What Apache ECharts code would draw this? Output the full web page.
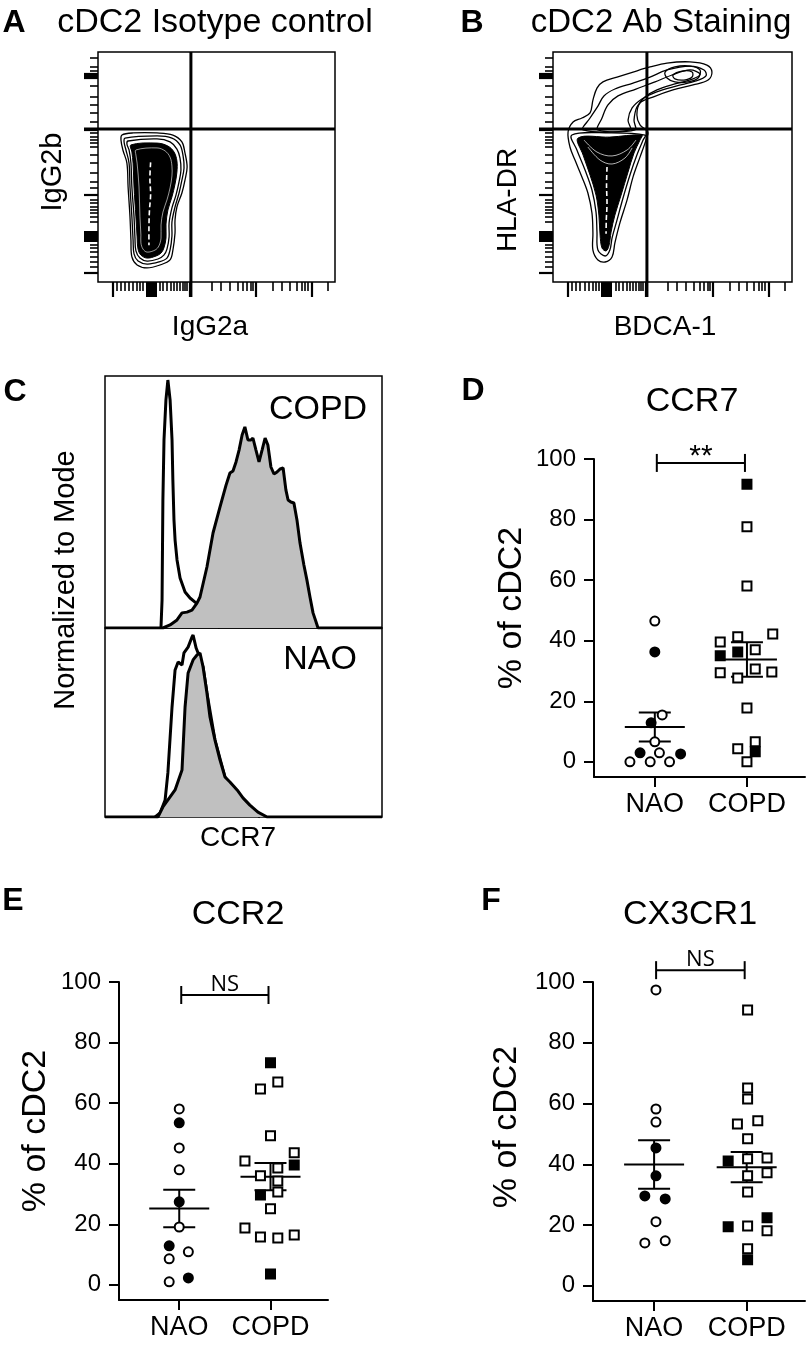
<!DOCTYPE html>
<html><head><meta charset="utf-8">
<script src="https://cdn.jsdelivr.net/npm/echarts@6/dist/echarts.min.js"></script>
<style>html,body{margin:0;padding:0;background:#fff}#c{width:809px;height:1350px}</style>
</head><body><div id="c"></div>
<script>
// ---------------- DATA ----------------
const groups = ['NAO', 'COPD'];
const yTicks = [0, 20, 40, 60, 80, 100];

// D: CCR7 (% of cDC2)
const ccr7_NAO = [46.5, 36.3, 15.5, 12.9, 6.6, 3.0, 3.0, 2.6, 0, 0, 0];
const ccr7_NAO_filled = [0, 1, 0, 1, 0, 1, 0, 1, 0, 0, 0];
const ccr7_NAO_jitter = [0, 0, 0.08, -0.04, 0, -0.16, 0.05, 0.28, -0.27, -0.05, 0.16];
const ccr7_COPD = [91.7, 77.6, 58.1, 42.2, 41.3, 39.6, 36.3, 37.0, 35.0, 30.7, 29.4, 29.7, 27.7, 17.8, 4.3, 6.6, 3.3, 0];
const ccr7_COPD_filled = [1, 0, 0, 0, 0, 0, 1, 0, 1, 0, 0, 0, 0, 0, 0, 0, 1, 0];
const ccr7_COPD_jitter = [0, 0, 0, 0.28, -0.10, -0.29, -0.10, 0.09, -0.29, 0.09, -0.29, 0.27, -0.10, 0, -0.10, 0.09, 0.09, 0];

// E: CCR2
const ccr2_NAO = [58.1, 53.5, 45.2, 38.0, 27.4, 19.1, 12.9, 10.9, 8.6, 2.3, 1.0];
const ccr2_NAO_filled = [0, 1, 0, 0, 1, 0, 1, 0, 0, 1, 0];
const ccr2_NAO_jitter = [0, 0, 0, 0, 0, 0, -0.11, 0.10, -0.11, 0.10, -0.11];
const ccr2_COPD = [73.3, 64.7, 67.0, 49.2, 43.6, 39.6, 40.9, 38.6, 36.0, 34.3, 29.7, 30.7, 25.1, 18.8, 15.8, 15.5, 16.5, 3.6];
const ccr2_COPD_filled = [1, 0, 0, 0, 0, 1, 0, 0, 0, 0, 1, 0, 0, 0, 0, 0, 0, 1];
const ccr2_COPD_jitter = [0, -0.11, 0.08, 0, 0.26, 0.26, -0.28, 0.08, -0.11, 0.08, -0.11, 0.08, 0, -0.28, -0.11, 0.08, 0.26, 0];

// F: CX3CR1
const cx3cr1_NAO = [97.4, 58.2, 53.9, 45.4, 36.2, 29.6, 28.6, 21.1, 14.1, 14.8];
const cx3cr1_NAO_filled = [0, 0, 0, 1, 1, 1, 1, 0, 0, 0];
const cx3cr1_NAO_jitter = [0.02, 0.02, 0.02, 0.02, 0.02, -0.10, 0.12, 0.02, -0.10, 0.12];
const cx3cr1_COPD = [90.8, 65.1, 61.5, 53.3, 54.3, 48.4, 41.1, 41.8, 42.1, 36.2, 37.2, 30.9, 19.4, 19.7, 22.4, 18.1, 12.2, 8.6];
const cx3cr1_COPD_filled = [0, 0, 0, 0, 0, 0, 1, 0, 0, 0, 0, 0, 1, 0, 1, 0, 0, 1];
const cx3cr1_COPD_jitter = [0.01, 0.01, 0.01, -0.10, 0.12, 0.01, -0.20, 0.01, 0.22, 0.01, 0.22, 0.01, -0.20, 0.01, 0.22, 0.22, 0.01, 0.01];

// significance brackets (D, E, F)
const sigLabels = ['**', 'NS', 'NS'];
const sigLevels = [98.7, 95.7, 103.9];

// C: CCR7 histograms, [channel (% of display), % of mode]
const copdIsotype = [[20.2,0],[20.6,11.1],[20.9,50.8],[21.3,74.6],[22.0,90.5],[22.7,98.4],[23.5,90.5],[24.2,74.6],[24.5,58.7],[24.9,42.9],[25.3,34.9],[26.0,27.0],[27.1,19.8],[28.9,14.3],[30.7,11.9],[32.5,10.3],[34.3,8.7],[37.9,5.2],[41.5,0]];
const copdStained = [[0,0],[19.9,0],[20.9,0],[23.5,1.2],[26.0,3.2],[27.8,6.0],[29.6,6.3],[31.4,7.1],[33.2,9.9],[34.3,12.3],[36.8,24.2],[39.0,37.7],[41.5,48.0],[43.7,56.7],[45.1,61.5],[46.2,62.3],[47.3,65.9],[48.4,70.6],[49.5,76.6],[50.5,79.8],[51.6,74.6],[52.7,74.6],[53.4,75.4],[54.5,70.6],[55.6,65.9],[56.7,70.6],[57.8,75.4],[58.8,72.6],[59.9,63.9],[61.0,61.1],[62.1,61.9],[63.2,63.1],[64.3,63.5],[65.3,54.8],[66.1,50.8],[67.1,50.0],[68.2,49.6],[69.3,42.9],[70.4,33.7],[71.8,25.0],[72.9,19.0],[74.0,12.3],[75.1,6.0],[76.2,2.4],[76.9,0],[100,0]];
const naoIsotype = [[18.1,0],[19.9,2.1],[21.7,9.0],[22.7,23.3],[24.2,58.2],[25.3,77.8],[26.4,82.0],[27.8,80.4],[28.5,86.8],[30.0,89.9],[31.4,95.2],[31.8,96.3],[32.9,89.4],[33.6,86.8],[35.4,79.4],[36.8,65.6],[39.7,40.7],[43.3,21.2],[48.7,9.0],[56.0,0]];
const naoStained = [[0,0],[19.1,0],[20.9,5.3],[23.5,10.6],[25.3,14.3],[27.8,24.9],[28.9,58.2],[30.0,76.2],[31.8,83.1],[33.2,85.7],[34.3,86.8],[35.4,79.4],[36.8,65.6],[37.9,52.9],[39.7,40.7],[41.5,30.2],[43.3,21.2],[45.1,18.5],[47.7,14.3],[49.8,10.1],[52.3,6.3],[55.2,2.6],[58.5,0],[100,0]];

// A/B flow plots: quadrant gates and contour outlines (% of display range)
const gateA = [39.2, 66.5];
const gateB = [39.3, 66.5];
const contourA_outer = [[10.1,63.9],[14.8,64.8],[24.9,64.8],[31.6,63.9],[35.4,60.9],[36.7,56.1],[37.6,50.0],[36.7,44.3],[35.4,38.7],[33.3,32.6],[32.5,27.0],[32.5,21.3],[31.6,13.9],[30.4,9.6],[26.2,7.4],[20.7,6.1],[16.5,7.4],[14.3,10.9],[13.9,18.3],[13.5,28.3],[12.7,41.3],[12.2,51.7],[10.5,57.4],[9.7,61.7]];
const contourA_ring2 = [[11.4,62.6],[24.9,63.5],[31.2,62.6],[34.6,59.6],[35.9,54.8],[36.3,49.6],[35.4,44.3],[34.2,38.7],[32.5,32.6],[31.2,26.1],[31.2,20.0],[30.4,13.9],[29.1,10.4],[25.7,8.7],[20.7,7.8],[16.9,9.1],[15.2,12.2],[14.8,18.3],[14.3,28.3],[13.5,41.3],[13.1,51.7],[11.8,57.4],[11.0,60.9]];
const contourA_ring3 = [[12.7,61.3],[24.9,62.2],[30.4,60.9],[33.3,57.8],[34.6,53.9],[35.0,48.7],[34.2,43.5],[32.9,37.8],[31.2,32.2],[30.0,25.7],[30.0,19.6],[29.1,14.3],[27.8,11.7],[25.3,10.0],[20.7,9.1],[17.7,10.4],[16.0,13.5],[15.6,19.1],[15.2,28.3],[14.3,41.3],[13.9,51.7],[13.1,57.4],[12.2,60.0]];
const contourA_core = [[13.9,59.6],[24.9,60.4],[29.5,59.1],[32.1,56.5],[33.3,52.6],[33.3,47.8],[32.5,42.6],[31.2,37.0],[29.5,31.3],[28.7,25.2],[28.7,19.1],[27.8,14.8],[26.6,12.6],[24.5,11.3],[20.7,10.4],[18.1,11.7],[16.9,14.3],[16.5,19.6],[16.0,28.3],[15.2,41.3],[14.8,51.7],[14.3,56.5]];
const contourA_inner = [[16.0,57.4],[24.9,58.3],[28.3,57.0],[30.4,54.3],[31.2,50.4],[31.2,46.1],[30.4,40.9],[29.1,35.7],[27.4,30.4],[26.6,24.8],[26.6,19.1],[25.7,15.7],[24.1,13.9],[20.7,13.0],[19.0,14.3],[18.1,17.0],[18.1,20.4],[17.7,28.3],[17.3,41.3],[16.5,51.7],[16.0,55.2]];
const contourA_ridge = [[22.2,52],[21.9,45],[22.2,38],[21.7,31],[21.5,24],[21.5,16]];

const contourB_outer = [[21.8,8.7],[18.8,9.6],[16.7,13.9],[16.7,21.3],[16.3,30.0],[14.6,38.7],[12.1,45.7],[9.2,53.0],[7.1,58.7],[6.3,65.2],[8.4,69.6],[12.1,71.3],[15.5,73.5],[16.7,79.1],[18.4,84.3],[20.9,87.0],[26.8,89.1],[33.5,91.3],[40.6,93.5],[47.7,95.2],[57.3,95.7],[64.4,94.3],[66.5,91.3],[64.9,87.8],[58.6,85.7],[50.2,83.5],[41.8,80.4],[36.4,77.8],[35.1,72.6],[36.4,68.3],[39.7,65.2],[38.9,61.7],[36.4,54.3],[33.5,45.7],[31.0,35.7],[28.0,25.7],[25.9,17.0],[24.7,10.9]];
const contourB_arm2 = [[12.6,66.1],[15.5,71.3],[18.8,76.5],[21.3,80.9],[25.9,83.9],[33.5,86.5],[40.6,89.1],[47.7,92.2],[57.3,93.9],[63.2,92.2],[64.0,89.6],[59.8,87.4],[51.5,85.2],[43.1,82.6],[37.2,79.6],[33.1,75.7],[31.4,70.4],[32.2,66.1]];
const contourB_arm3 = [[18.8,66.1],[20.5,71.3],[23.0,77.0],[27.2,80.9],[34.7,83.9],[42.7,87.0],[49.8,90.0],[57.3,92.2],[61.5,90.4],[58.6,88.3],[51.0,86.1],[43.5,83.5],[38.5,80.4],[35.1,76.1],[33.9,70.4],[34.3,66.1]];
const contourB_peak = [[46.9,91.3],[51.0,93.5],[57.3,93.9],[61.5,92.2],[60.7,88.7],[56.5,87.0],[51.0,87.0],[47.7,88.7]];
const contourB_peak2 = [[50.2,90.0],[54.0,91.7],[58.2,91.3],[58.2,89.1],[54.8,87.8],[51.0,88.3]];
const contourB_low2 = [[7.9,63.9],[10.0,57.4],[13.4,48.7],[16.3,40.0],[18.0,30.4],[18.4,21.7],[18.8,13.9],[21.8,11.3],[23.8,13.9],[24.7,19.1],[26.8,27.0],[29.3,36.5],[32.2,46.5],[35.1,55.2],[37.7,61.7],[38.5,63.9],[23.8,64.8]];
const contourB_core = [[10.5,62.6],[12.6,55.2],[15.5,46.5],[18.0,37.8],[19.2,29.1],[19.7,20.4],[20.5,14.8],[22.2,13.5],[23.4,15.7],[24.3,21.7],[25.9,29.1],[28.5,37.8],[31.4,47.8],[33.9,56.1],[36.4,61.7],[37.2,63.9],[23.8,63.0]];
const contourB_arc1 = [[13.0,61.7],[18.4,56.5],[24.7,54.8],[31.0,57.4],[34.7,61.7]];
const contourB_arc2 = [[14.6,58.7],[19.7,53.0],[24.7,51.3],[30.1,53.9],[33.1,58.3]];
const contourB_ridge = [[22.6,50],[22.4,42],[22.6,34],[22.3,27],[22.2,21]];

// flow-plot axis tick positions (% of display range)
const flowTickXMajor = [6.3, 38.8, 66.7, 90.3];
const flowTickXMinor = [8.0, 9.7, 11.4, 13.1, 14.8, 16.5, 17.7, 19.0, 26.2, 27.4, 29.1, 30.8, 32.1, 33.3, 34.6, 35.9, 36.7, 37.6, 48.1, 51.9, 55.7, 59.1, 61.2, 62.9, 64.6, 65.4, 73.8, 77.6, 81.0, 84.0, 86.1, 87.3, 88.6, 97.0];
const flowTickXBlock = [22.4];
const flowTickYMajor = [3.9, 37.8, 66.1, 88.8, 89.6, 90.4];
const flowTickYMinor = [97.4, 93.5, 91.7, 85.2, 80.4, 77.0, 73.5, 69.6, 64.8, 63.0, 61.7, 60.4, 58.7, 55.2, 51.7, 47.4, 43.5, 40.9, 35.7, 34.3, 32.6, 31.3, 30.0, 28.3, 26.1, 16.1, 14.8, 13.0, 10.9, 8.7, 6.5];
const flowTickYBlock = [20.0];

// ---------------- CHART ----------------
const FONT = '"Liberation Sans", Arial, Helvetica, sans-serif';
const chart = echarts.init(document.getElementById('c'), null, {renderer: 'canvas', width: 809, height: 1350});

const grids = [
  {left: 98, top: 52, width: 237, height: 230},   // A
  {left: 553, top: 52, width: 239, height: 230},  // B
  {left: 105, top: 376, width: 277, height: 252}, // C top
  {left: 105, top: 628, width: 277, height: 189}, // C bottom
  {left: 594, top: 459, width: 211, height: 318}, // D
  {left: 119, top: 982, width: 209, height: 318}, // E
  {left: 593, top: 982, width: 212, height: 319}  // F
].map((g, i) => Object.assign({
  show: i <= 3, borderColor: '#000', borderWidth: 1.5, backgroundColor: 'transparent',
  containLabel: false, outerBoundsMode: 'none'
}, g));

const xAxes = [], yAxes = [];
function flowAxes(gi) {
  const base = {gridIndex: gi, type: 'value', min: 0, max: 100, axisLine: {show: false, onZero: false},
    axisLabel: {show: false}, splitLine: {show: false}};
  const mk = (pos, len, w, vals) => Object.assign({}, base, {position: pos,
    axisTick: {show: true, length: len, lineStyle: {color: '#000', width: w}, customValues: vals}});
  const xi = xAxes.length;
  xAxes.push(mk('bottom', 15, 2.2, flowTickXMajor), mk('bottom', 9, 1.6, flowTickXMinor), mk('bottom', 15, 11, flowTickXBlock));
  yAxes.push(mk('left', 14, 2.2, flowTickYMajor), mk('left', 8, 1.6, flowTickYMinor), mk('left', 14, 11, flowTickYBlock));
  return xi;
}
function histAxes(gi) {
  const xi = xAxes.length;
  xAxes.push({gridIndex: gi, type: 'value', min: 0, max: 100, show: false});
  yAxes.push({gridIndex: gi, type: 'value', min: 0, max: 100, show: false});
  return xi;
}
function scatterAxes(gi) {
  const xi = xAxes.length;
  const line = {show: true, onZero: false, lineStyle: {color: '#000', width: 2}};
  xAxes.push({gridIndex: gi, type: 'value', min: 0.34, max: 2.63, position: 'bottom', axisLine: line,
    axisTick: {show: true, length: 10, lineStyle: {color: '#000', width: 2}, customValues: [1, 2]},
    axisLabel: {show: true, customValues: [1, 2], formatter: v => groups[Math.round(v) - 1],
      fontSize: 27, color: '#000', fontFamily: FONT, margin: 14},
    splitLine: {show: false}});
  yAxes.push({gridIndex: gi, type: 'value', min: -5, max: 100, position: 'left', axisLine: line,
    axisTick: {show: true, length: 10, lineStyle: {color: '#000', width: 2}, customValues: yTicks},
    axisLabel: {show: true, customValues: yTicks, fontSize: 24, color: '#000', fontFamily: FONT, margin: 18},
    splitLine: {show: false}});
  return xi;
}

const axA = flowAxes(0), axB = flowAxes(1), axCt = histAxes(2), axCb = histAxes(3);
const axD = scatterAxes(4), axE = scatterAxes(5), axF = scatterAxes(6);

const series = [];
function polySeries(ai, shapes, style, z, closed) {
  series.push({type: 'custom', xAxisIndex: ai, yAxisIndex: ai, silent: true, clip: false, z: z,
    data: shapes.map((s, i) => [i, 0]),
    renderItem(params, api) {
      const pts = shapes[params.dataIndex].map(p => api.coord(p));
      return {type: closed ? 'polygon' : 'polyline', shape: {points: pts, smooth: 0.35}, style: style};
    }});
}
function gateSeries(ai, gate) {
  series.push({type: 'custom', xAxisIndex: ai, yAxisIndex: ai, silent: true, z: 10, data: [gate],
    renderItem(params, api) {
      const cs = params.coordSys, p = api.coord(gate);
      const st = {stroke: '#000', lineWidth: 3};
      return {type: 'group', children: [
        {type: 'line', shape: {x1: p[0], y1: cs.y, x2: p[0], y2: cs.y + cs.height + 15}, style: st},
        {type: 'line', shape: {x1: cs.x - 14, y1: p[1], x2: cs.x + cs.width, y2: p[1]}, style: st}]};
    }});
}
// A
polySeries(axA, [contourA_outer, contourA_ring2, contourA_ring3], {fill: 'none', stroke: '#000', lineWidth: 1.3}, 3, true);
polySeries(axA, [contourA_core], {fill: '#000', stroke: '#000', lineWidth: 1}, 4, true);
polySeries(axA, [contourA_inner], {fill: 'none', stroke: '#fff', lineWidth: 0.6}, 5, true);
polySeries(axA, [contourA_ridge], {fill: 'none', stroke: '#fff', lineWidth: 1.6, lineDash: [5, 3]}, 6, false);
gateSeries(axA, gateA);
// B
polySeries(axB, [contourB_outer, contourB_arm2, contourB_arm3, contourB_peak, contourB_peak2, contourB_low2], {fill: 'none', stroke: '#000', lineWidth: 1.3}, 3, true);
polySeries(axB, [contourB_core], {fill: '#000', stroke: '#000', lineWidth: 1}, 4, true);
polySeries(axB, [contourB_arc1, contourB_arc2], {fill: 'none', stroke: '#fff', lineWidth: 0.7}, 5, false);
polySeries(axB, [contourB_ridge], {fill: 'none', stroke: '#fff', lineWidth: 1.6, lineDash: [5, 3]}, 6, false);
gateSeries(axB, gateB);

// C histograms
function hist(ai, data, filled, z) {
  series.push({type: 'line', xAxisIndex: ai, yAxisIndex: ai, data: data, showSymbol: false, symbol: 'none',
    smooth: false, silent: true, z: z, lineStyle: {color: '#000', width: 3},
    areaStyle: filled ? {color: '#c0c0c0', opacity: 1, origin: 'start'} : undefined});
}
hist(axCt, copdIsotype, false, 2);
hist(axCt, copdStained, true, 3);
hist(axCb, naoIsotype, false, 2);
hist(axCb, naoStained, true, 3);

// scatter panels
function scatterPanel(ai, sets, sigIdx) {
  // mean ± SEM
  series.push({type: 'custom', xAxisIndex: ai, yAxisIndex: ai, silent: true, z: 3, data: [[1, 0], [2, 0]],
    renderItem(params, api) {
      const vals = sets[params.dataIndex].v, n = vals.length;
      const m = vals.reduce((a, b) => a + b, 0) / n;
      const sd = Math.sqrt(vals.reduce((a, b) => a + (b - m) * (b - m), 0) / (n - 1));
      const se = sd / Math.sqrt(n), gx = params.dataIndex + 1;
      const c = api.coord([gx, m]), hi = api.coord([gx, m + se])[1], lo = api.coord([gx, m - se])[1];
      const st = {stroke: '#000', lineWidth: 2};
      return {type: 'group', children: [
        {type: 'line', shape: {x1: c[0] - 30, y1: c[1], x2: c[0] + 30, y2: c[1]}, style: st},
        {type: 'line', shape: {x1: c[0] - 16, y1: hi, x2: c[0] + 16, y2: hi}, style: st},
        {type: 'line', shape: {x1: c[0] - 16, y1: lo, x2: c[0] + 16, y2: lo}, style: st},
        {type: 'line', shape: {x1: c[0], y1: hi, x2: c[0], y2: lo}, style: st}]};
    }});
  sets.forEach((s, gi) => {
    series.push({type: 'scatter', xAxisIndex: ai, yAxisIndex: ai, silent: true, z: 5,
      symbol: gi === 0 ? 'circle' : 'rect', symbolSize: gi === 0 ? 9 : 9,
      data: s.v.map((v, i) => ({value: [gi + 1 + s.j[i], v],
        itemStyle: {color: s.f[i] ? '#000' : '#fff', borderColor: '#000', borderWidth: 2, opacity: 1}}))});
  });
  // significance bracket
  const lab = sigLabels[sigIdx], lev = sigLevels[sigIdx];
  series.push({type: 'custom', xAxisIndex: ai, yAxisIndex: ai, silent: true, clip: false, z: 6, data: [[1, lev]],
    renderItem(params, api) {
      const p1 = api.coord([1, lev]), p2 = api.coord([2, lev]);
      const st = {stroke: '#000', lineWidth: 2};
      const star = lab === '**';
      return {type: 'group', children: [
        {type: 'line', shape: {x1: p1[0] + 2, y1: p1[1], x2: p2[0] - 2, y2: p2[1]}, style: st},
        {type: 'line', shape: {x1: p1[0] + 2, y1: p1[1] - 9, x2: p1[0] + 2, y2: p1[1] + 9}, style: st},
        {type: 'line', shape: {x1: p2[0] - 2, y1: p2[1] - 9, x2: p2[0] - 2, y2: p2[1] + 9}, style: st},
        {type: 'text', x: (p1[0] + p2[0]) / 2, y: p1[1] - (star ? 6 : 10),
          style: {text: lab, fill: '#000', fontSize: star ? 30 : 22,
            fontFamily: star ? FONT : '"Open Sans", sans-serif', align: 'center', verticalAlign: 'middle'}}]};
    }});
}
scatterPanel(axD, [{v: ccr7_NAO, f: ccr7_NAO_filled, j: ccr7_NAO_jitter}, {v: ccr7_COPD, f: ccr7_COPD_filled, j: ccr7_COPD_jitter}], 0);
scatterPanel(axE, [{v: ccr2_NAO, f: ccr2_NAO_filled, j: ccr2_NAO_jitter}, {v: ccr2_COPD, f: ccr2_COPD_filled, j: ccr2_COPD_jitter}], 1);
scatterPanel(axF, [{v: cx3cr1_NAO, f: cx3cr1_NAO_filled, j: cx3cr1_NAO_jitter}, {v: cx3cr1_COPD, f: cx3cr1_COPD_filled, j: cx3cr1_COPD_jitter}], 2);

// ---------------- TEXT ----------------
function txt(text, x, y, size, opts) {
  opts = opts || {};
  return {type: 'text', x: x, y: y, rotation: opts.rot || 0, silent: true, z: 100,
    style: {text: text, fill: '#000', fontSize: size, fontFamily: FONT,
      fontWeight: opts.bold ? 'bold' : 'normal', align: 'center', verticalAlign: 'middle'}};
}
const R = Math.PI / 2;
const graphics = [
  txt('A', 14, 23, 32, {bold: true}),
  txt('cDC2 Isotype control', 215, 23, 34),
  txt('B', 472, 23, 32, {bold: true}),
  txt('cDC2 Ab Staining', 661, 23, 33),
  txt('IgG2b', 53, 172, 29, {rot: R}),
  txt('HLA-DR', 508, 200, 28, {rot: R}),
  txt('IgG2a', 210, 327, 28),
  txt('BDCA-1', 665, 327, 28),
  txt('C', 15, 392, 32, {bold: true}),
  txt('COPD', 318, 410, 34),
  txt('NAO', 320, 660, 34),
  txt('Normalized to Mode', 66, 580, 29, {rot: R}),
  txt('CCR7', 238, 838, 28),
  txt('D', 473, 391, 32, {bold: true}),
  txt('CCR7', 692, 402, 34),
  txt('% of cDC2', 512, 608, 34, {rot: R}),
  txt('E', 13, 901, 32, {bold: true}),
  txt('CCR2', 238, 915, 34),
  txt('% of cDC2', 36, 1131, 34, {rot: R}),
  txt('F', 491, 901, 32, {bold: true}),
  txt('CX3CR1', 690, 915, 34),
  txt('% of cDC2', 507, 1127, 34, {rot: R})
];

chart.setOption({
  animation: false,
  backgroundColor: '#fff',
  grid: grids,
  xAxis: xAxes,
  yAxis: yAxes,
  series: series,
  graphic: graphics
});
</script></body></html>
